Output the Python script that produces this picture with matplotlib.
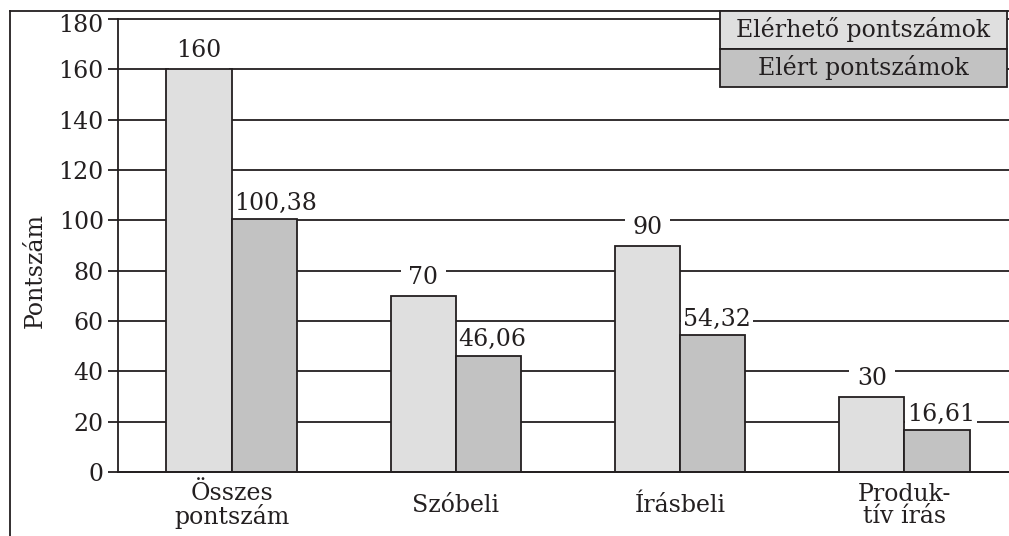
import matplotlib
matplotlib.use("Agg")
import matplotlib.pyplot as plt
from matplotlib.patches import Rectangle
from matplotlib.lines import Line2D
import numpy as np

categories = ["Összes\npontszám", "Szóbeli", "Írásbeli", "Produk-\ntív írás"]
available = [160, 70, 90, 30]
achieved = [100.38, 46.06, 54.32, 16.61]
available_labels = ["160", "70", "90", "30"]
achieved_labels = ["100,38", "46,06", "54,32", "16,61"]
series_names = ["Elérhető pontszámok", "Elért pontszámok"]
y_ticks = [0, 20, 40, 60, 80, 100, 120, 140, 160, 180]

LIGHT = "#dfdfdf"
DARK = "#c2c2c2"
INK = "#231f20"
FS = 17

plt.rcParams["font.family"] = ["DejaVu Serif"]

W, H = 1009, 536
fig = plt.figure(figsize=(W / 100, H / 100), dpi=100)
ax = fig.add_axes([118 / W, 64 / H, 891 / W, 453 / H])

x = np.arange(len(categories))
bw = 0.29
ax.bar(x - bw / 2, available, bw, color=LIGHT, edgecolor=INK, linewidth=1.3, zorder=3)
ax.bar(x + bw / 2, achieved, bw, color=DARK, edgecolor=INK, linewidth=1.3, zorder=3)

ax.set_xlim(-0.506, 3.466)
ax.set_ylim(0, 180)
ax.set_yticks(y_ticks)
# the topmost label is drawn separately, nudged down below the frame line
ax.set_yticklabels([str(t) for t in y_ticks[:-1]] + [""], fontsize=FS)
ax.tick_params(axis="y", length=7.2, width=1.3, color=INK, pad=3, labelcolor=INK)
ax.annotate(str(y_ticks[-1]), xy=(0, y_ticks[-1]), xycoords=("axes fraction", "data"),
            xytext=(-10.2, -3), textcoords="offset points", ha="right",
            va="center_baseline", fontsize=FS, color=INK, annotation_clip=False)
ax.set_xticks(x)
ax.set_xticklabels(categories, fontsize=FS, linespacing=0.95, color=INK)
ax.tick_params(axis="x", length=0, pad=24)
for lbl in ax.get_xticklabels():
    lbl.set_va("center")

ax.yaxis.grid(True, color=INK, linewidth=1.3)
ax.set_axisbelow(True)
for gl in ax.get_ygridlines():
    gl.set_clip_on(False)
for s in ["top", "right"]:
    ax.spines[s].set_visible(False)
for s in ["left", "bottom"]:
    ax.spines[s].set_color(INK)
    ax.spines[s].set_linewidth(1.3)
    ax.spines[s].set_zorder(4)

# value labels; white boxes break the gridlines behind them
for xi, v, t in zip(x, available, available_labels):
    ax.annotate(t, (xi - bw / 2, v), xytext=(0, 8.6), textcoords="offset points",
                ha="center", va="baseline", fontsize=FS, color=INK, zorder=2,
                bbox=dict(boxstyle="square,pad=0.33", fc="white", ec="none"))
for xi, v, t in zip(x, achieved, achieved_labels):
    ax.annotate(t, (xi, v), xytext=(2, 7.0), textcoords="offset points",
                ha="left", va="baseline", fontsize=FS, color=INK, zorder=2,
                bbox=dict(boxstyle="square,pad=0.08", fc="white", ec="none"))

fig.text(35 / W, 1 - 270 / H, "Pontszám", rotation=90, ha="center", va="center",
         fontsize=FS, color=INK)

# outer frame (left and top edges)
fig.add_artist(Line2D([10 / W, 10 / W], [0, 1 - 11 / H], color=INK, lw=1.3))
fig.add_artist(Line2D([10 / W, 1], [1 - 11 / H, 1 - 11 / H], color=INK, lw=1.3))

# series key in the top-right corner
box_x0, box_x1 = 720 / W, 1007 / W
rows = [(11, 49, LIGHT), (49, 87, DARK)]
for (top, bot, col), name in zip(rows, series_names):
    fig.add_artist(Rectangle((box_x0, 1 - bot / H), box_x1 - box_x0, (bot - top) / H,
                             transform=fig.transFigure, facecolor=col,
                             edgecolor=INK, linewidth=1.3, zorder=5))
    fig.text((box_x0 + box_x1) / 2, 1 - (top + bot) / 2 / H, name, ha="center",
             va="center", fontsize=FS, color=INK, zorder=6)

fig.savefig("out.png", dpi=100)
